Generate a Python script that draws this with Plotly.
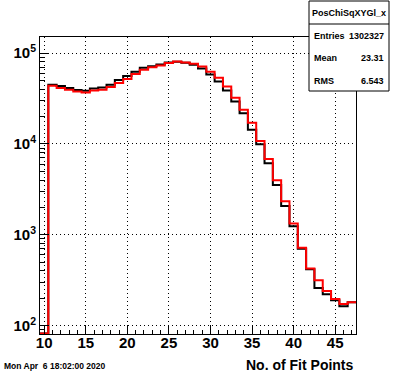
import plotly.graph_objects as go

# ---- data ----
bin_centers = list(range(10, 48))  # integer bins, width 1
black_counts = [82, 44740, 43270, 41130, 39090, 38400, 40710, 41760, 44740, 50390,
                55780, 62220, 68850, 71530, 74860, 78780, 80190, 78180, 74300, 67650,
                58100, 48630, 38700, 29270, 21800, 14270, 9925, 6127, 3532, 2072,
                1241, 701, 418, 260, 222, 190, 164, 181]
red_counts = [82, 43600, 41130, 39390, 37720, 36780, 38700, 39390, 42190, 46690,
              51680, 58680, 65460, 69720, 72990, 77570, 80590, 78580, 76210, 71170,
              62220, 53420, 42830, 32150, 23710, 17040, 10790, 6833, 3979, 2334,
              1329, 719, 426, 317, 241, 197, 173, 181]
x_tick_vals = [10, 15, 20, 25, 30, 35, 40, 45]
y_tick_vals = [1e2, 1e3, 1e4, 1e5]
y_tick_text = ["10<sup>2</sup>", "10<sup>3</sup>", "10<sup>4</sup>", "10<sup>5</sup>"]
stats_title = "PosChiSqXYGl_x"
stats_labels = ["Entries", "Mean", "RMS"]
stats_values = ["1302327", "23.31", "6.543"]
x_title = "No. of Fit Points"
timestamp = "Mon Apr\u00a0 6 18:02:00 2020"

W, H = 396, 372
L, R, T, B = 40, 40, 37, 38
PW, PH = W - L - R, H - T - B


def px_x(p):
    return (p - L) / PW


def px_y(p):
    return (H - B - p) / PH


def steps(counts):
    xs = [c - 0.5 for c in bin_centers] + [bin_centers[-1] + 0.5]
    ys = list(counts) + [counts[-1]]
    return xs, ys


fig = go.Figure()
for counts, color in ((black_counts, "black"), (red_counts, "red")):
    xs, ys = steps(counts)
    fig.add_trace(go.Scatter(x=xs, y=ys, mode="lines", line_shape="hv",
                             line=dict(color=color, width=2), showlegend=False,
                             hoverinfo="skip"))

font_family = "Liberation Sans, Arial, sans-serif"
bold = dict(family=font_family, weight="bold", color="black")
grid_dash = "1px,3px"

fig.update_layout(
    width=W, height=H,
    margin=dict(l=L, r=R, t=T, b=B),
    paper_bgcolor="white", plot_bgcolor="white",
    font=dict(family=font_family, color="black", size=12),
    xaxis=dict(range=[9.5, 47.5], tickvals=x_tick_vals, ticks="inside", ticklen=8,
               tickcolor="black", tickwidth=1, ticklabelstandoff=-5,
               showline=True, mirror=True, linecolor="black", linewidth=1,
               showgrid=True, gridcolor="black", griddash=grid_dash, gridwidth=1,
               zeroline=False, tickfont=dict(size=15, **bold),
               minor=dict(ticks="inside", ticklen=4, dtick=1, tickcolor="black", showgrid=False)),
    yaxis=dict(type="log", range=[1.9085, 5.176], tickvals=y_tick_vals, ticktext=y_tick_text,
               ticks="inside", ticklen=9, tickcolor="black", tickwidth=1,
               showline=True, mirror=True, linecolor="black", linewidth=1,
               showgrid=True, gridcolor="black", griddash=grid_dash, gridwidth=1,
               zeroline=False, tickfont=dict(size=15, **bold),
               minor=dict(ticks="inside", ticklen=5, dtick="D1", tickcolor="black", showgrid=False)),
)

# stats box
bx0, bx1, by0, by1, bsep = 309, 389, 1, 91, 24
fig.add_shape(type="rect", xref="paper", yref="paper",
              x0=px_x(bx0), x1=px_x(bx1), y0=px_y(by1), y1=px_y(by0),
              line=dict(color="black", width=1), fillcolor="white", layer="above")
fig.add_shape(type="line", xref="paper", yref="paper",
              x0=px_x(bx0), x1=px_x(bx1), y0=px_y(bsep), y1=px_y(bsep),
              line=dict(color="black", width=1), layer="above")
fig.add_annotation(x=px_x((bx0 + bx1) / 2), y=px_y(12.5), xref="paper", yref="paper",
                   text=stats_title, showarrow=False, xanchor="center", yanchor="middle",
                   font=dict(size=9, **bold))
for i, (lab, val) in enumerate(zip(stats_labels, stats_values)):
    yy = px_y(35.5 + i * 22.5)
    fig.add_annotation(x=px_x(bx0 + 3), y=yy, xref="paper", yref="paper", text=lab,
                       showarrow=False, xanchor="left", yanchor="middle",
                       font=dict(size=9, **bold))
    fig.add_annotation(x=px_x(bx1 - 3), y=yy, xref="paper", yref="paper", text=val,
                       showarrow=False, xanchor="right", yanchor="middle",
                       font=dict(size=9, **bold))

# axis title (right aligned) and timestamp
fig.add_annotation(x=1, y=px_y(365), xref="paper", yref="paper", text=x_title,
                   showarrow=False, xanchor="right", yanchor="middle",
                   font=dict(size=14, **bold))
fig.add_annotation(x=px_x(2), y=px_y(366), xref="paper", yref="paper", text=timestamp,
                   showarrow=False, xanchor="left", yanchor="middle",
                   font=dict(size=8.5, **bold))

fig.write_html("out.html", config={"displayModeBar": False},
               post_script="document.body.style.margin='0';document.body.style.overflow='hidden';")
